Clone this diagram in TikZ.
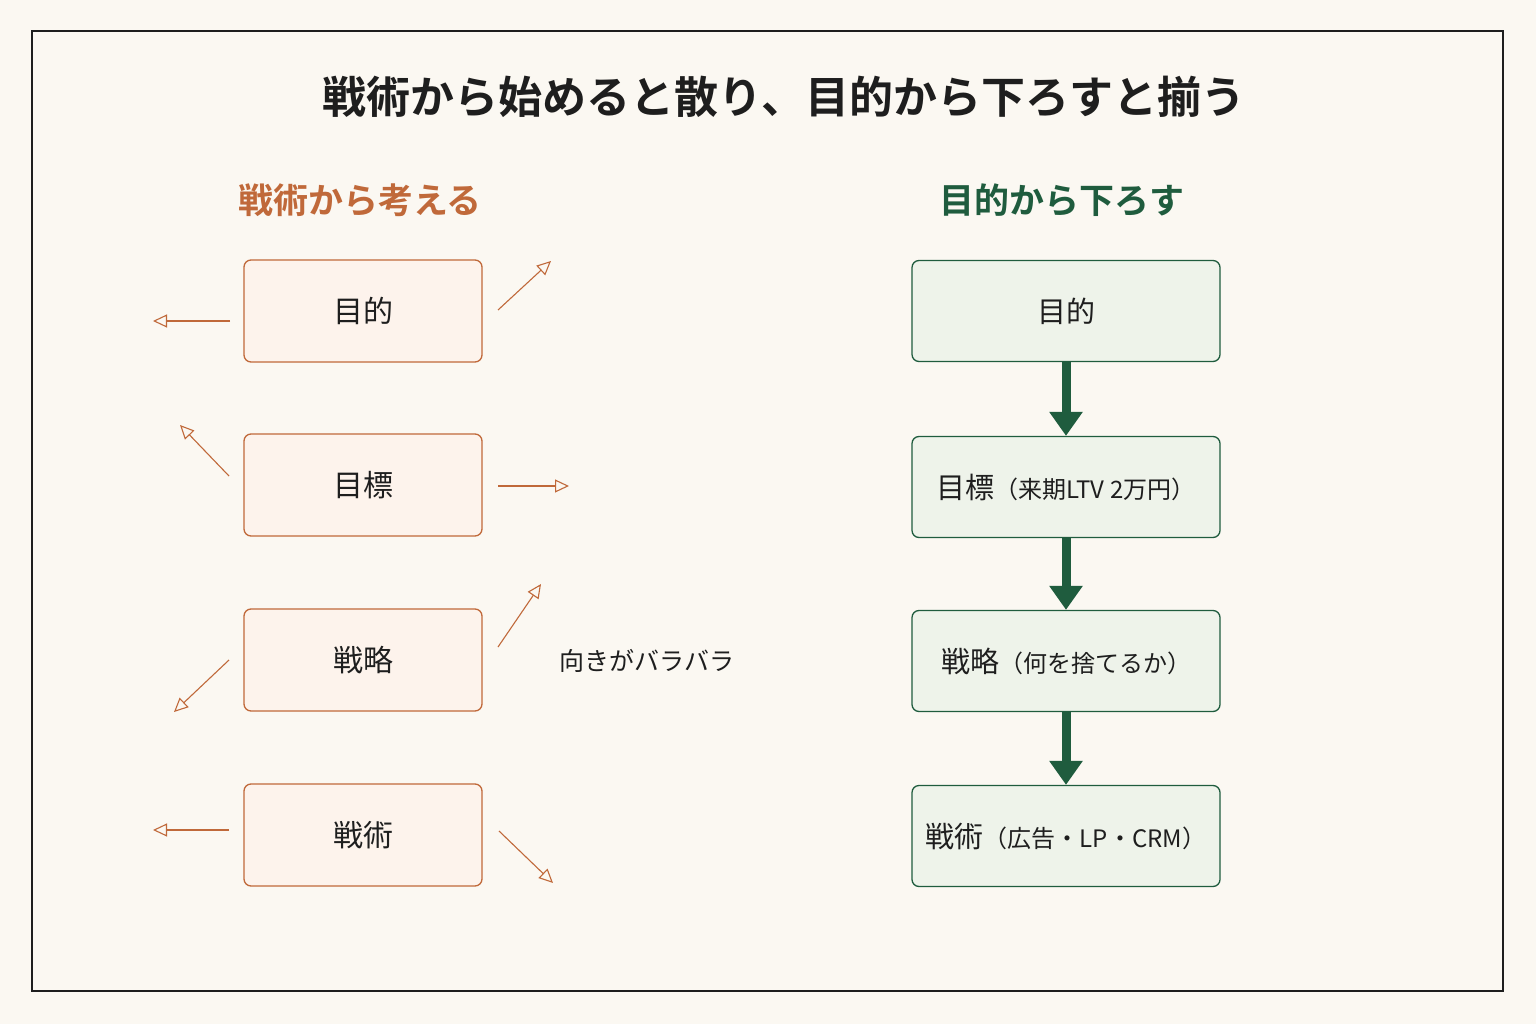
\documentclass[tikz,border=0pt]{standalone}
\usepackage{fontspec}
\newfontfamily\cjk{Noto Sans CJK JP}
\newfontfamily\cjkb{Noto Sans CJK JP Bold}
\usetikzlibrary{arrows.meta}
\definecolor{bg}{HTML}{FBF8F2}
\definecolor{org}{HTML}{C0693A}
\definecolor{orgfill}{HTML}{FDF3EC}
\definecolor{grn}{HTML}{1F5C3E}
\definecolor{grnfill}{HTML}{EEF3EA}
\definecolor{ink}{HTML}{1E1E1E}
\begin{document}
\begin{tikzpicture}[x=1pt,y=-1pt,
  lbox/.style={draw=org,fill=orgfill,line width=1.3pt,rounded corners=7pt,minimum width=238pt,minimum height=102pt,font=\cjk\fontsize{30}{34}\selectfont,text=ink},
  rbox/.style={draw=grn,fill=grnfill,line width=1.3pt,rounded corners=7pt,minimum width=308pt,minimum height=101pt,font=\cjk\fontsize{29}{34}\selectfont,text=ink},
  scat/.style={draw=org,line width=1.1pt,-{Triangle[open,length=14pt,width=13pt]}},
  down/.style={draw=grn,line width=9pt,-{Triangle[length=24pt,width=32pt]}}]
\fill[bg] (0,0) rectangle (1536,1024);
\useasboundingbox (0,0) rectangle (1536,1024);
\draw[ink,line width=1.5pt] (32,31) rectangle (1503,991);
\node[font=\cjkb\fontsize{44}{50}\selectfont,text=ink] (title) at (784,97) {戦術から始めると散り、目的から下ろすと揃う};
\node[font=\cjkb\fontsize{35}{40}\selectfont,text=org] (lh) at (360,200) {戦術から考える};
\node[font=\cjkb\fontsize{35}{40}\selectfont,text=grn] (rh) at (1062,200) {目的から下ろす};
\node[lbox] (l1) at (363,311) {目的};
\node[lbox] (l2) at (363,485) {目標};
\node[lbox] (l3) at (363,660) {戦略};
\node[lbox] (l4) at (363,835) {戦術};
\coordinate (a1s) at (230,321); \coordinate (a1e) at (153,321);
\coordinate (a2s) at (498,310); \coordinate (a2e) at (551,261);
\coordinate (a3s) at (229,476); \coordinate (a3e) at (180,425);
\coordinate (a4s) at (498,486); \coordinate (a4e) at (569,486);
\coordinate (a5s) at (498,647); \coordinate (a5e) at (541,584);
\coordinate (a6s) at (229,660); \coordinate (a6e) at (174,712);
\coordinate (a7s) at (229,830); \coordinate (a7e) at (153,830);
\coordinate (a8s) at (499,831); \coordinate (a8e) at (553,883);
\foreach \i in {1,...,8} \draw[scat] (a\i s) -- (a\i e);
\node[font=\cjk\fontsize{25}{30}\selectfont,text=ink] (lab) at (647,661) {向きがバラバラ};
\node[rbox] (r1) at (1066,311) {目的};
\node[rbox] (r2) at (1066,487) {目標{\fontsize{24}{28}\selectfont（来期LTV 2万円）}};
\node[rbox] (r3) at (1066,661) {戦略{\fontsize{24}{28}\selectfont（何を捨てるか）}};
\node[rbox] (r4) at (1066,836) {戦術{\fontsize{24}{28}\selectfont（広告・LP・CRM）}};
\draw[down] (r1.south) -- (r2.north);
\draw[down] (r2.south) -- (r3.north);
\draw[down] (r3.south) -- (r4.north);
\end{tikzpicture}
\end{document}
